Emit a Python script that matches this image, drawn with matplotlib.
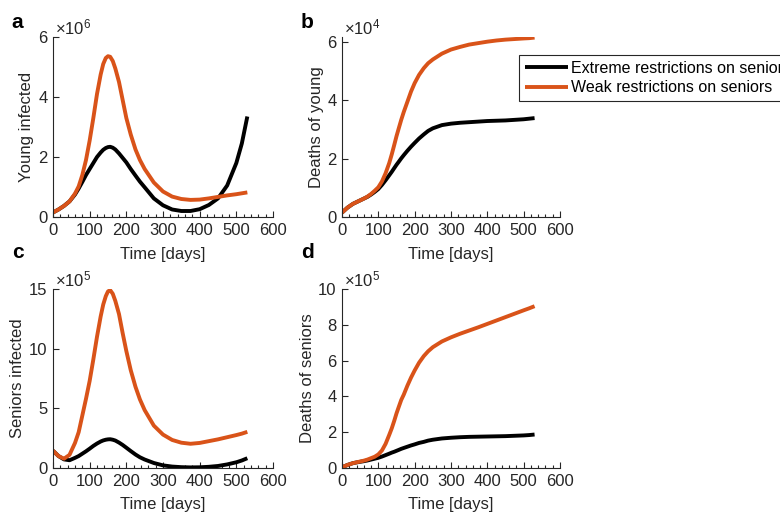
import matplotlib
matplotlib.use('Agg')
import matplotlib.pyplot as plt
from matplotlib.ticker import MultipleLocator

plt.rcParams['font.family'] = ['Liberation Sans', 'DejaVu Sans']
plt.rcParams['mathtext.default'] = 'regular'

# time axis shared by every series (days)
days = [0, 15, 30, 45, 60, 70, 80, 90, 100, 110, 120, 130, 137, 144, 150, 156, 163, 170, 180,
        190, 200, 212, 225, 237, 250, 275, 300, 325, 350, 375, 400, 425, 450, 475, 500, 515, 530]

# a: young infected (x1e6)
young_inf_extreme = [0.15, 0.25, 0.37, 0.52, 0.75, 0.95, 1.17, 1.4, 1.6, 1.8, 2.0, 2.15, 2.24,
                     2.3, 2.33, 2.34, 2.31, 2.25, 2.12, 1.97, 1.82, 1.6, 1.38, 1.18, 0.99, 0.62,
                     0.39, 0.25, 0.2, 0.2, 0.26, 0.4, 0.62, 1.05, 1.8, 2.45, 3.35]
young_inf_weak = [0.15, 0.25, 0.37, 0.52, 0.78, 1.02, 1.4, 1.9, 2.55, 3.3, 4.1, 4.75, 5.1, 5.3,
                  5.36, 5.34, 5.2, 4.95, 4.5, 3.9, 3.3, 2.75, 2.25, 1.9, 1.6, 1.15, 0.85, 0.68,
                  0.6, 0.57, 0.58, 0.62, 0.67, 0.72, 0.76, 0.79, 0.82]

# b: deaths of young (x1e4)
young_dead_extreme = [0.15, 0.32, 0.45, 0.54, 0.63, 0.69, 0.77, 0.86, 0.96, 1.1, 1.26, 1.43, 1.55,
                      1.68, 1.79, 1.89, 2.01, 2.12, 2.27, 2.41, 2.54, 2.69, 2.83, 2.95, 3.04, 3.15,
                      3.2, 3.23, 3.25, 3.27, 3.29, 3.3, 3.31, 3.33, 3.35, 3.37, 3.39]
young_dead_weak = [0.15, 0.32, 0.45, 0.54, 0.63, 0.7, 0.79, 0.9, 1.02, 1.22, 1.5, 1.85, 2.15,
                   2.48, 2.77, 3.03, 3.33, 3.6, 3.95, 4.3, 4.59, 4.87, 5.1, 5.27, 5.4, 5.6, 5.74,
                   5.83, 5.91, 5.96, 6.01, 6.05, 6.08, 6.1, 6.12, 6.13, 6.15]

# c: seniors infected (x1e5)
senior_inf_extreme = [1.45, 1.0, 0.72, 0.65, 0.85, 1.0, 1.2, 1.4, 1.62, 1.85, 2.05, 2.22, 2.31,
                      2.37, 2.4, 2.41, 2.37, 2.3, 2.13, 1.93, 1.7, 1.42, 1.13, 0.9, 0.71, 0.42,
                      0.22, 0.12, 0.07, 0.05, 0.06, 0.1, 0.17, 0.3, 0.48, 0.63, 0.82]
senior_inf_weak = [1.45, 1.0, 0.78, 1.1, 2.1, 3.0, 4.4, 5.8, 7.3, 9.1, 11.0, 12.7, 13.7, 14.4,
                   14.8, 14.9, 14.6, 14.0, 12.9, 11.3, 9.8, 8.2, 6.8, 5.75, 4.85, 3.55, 2.8, 2.35,
                   2.12, 2.03, 2.1, 2.25, 2.4, 2.58, 2.76, 2.88, 3.03]

# d: deaths of seniors (x1e5)
senior_dead_extreme = [0.04, 0.17, 0.27, 0.33, 0.38, 0.42, 0.47, 0.52, 0.57, 0.64, 0.72, 0.8, 0.86,
                       0.91, 0.96, 1.01, 1.07, 1.12, 1.19, 1.26, 1.32, 1.4, 1.46, 1.53, 1.58, 1.65,
                       1.69, 1.72, 1.74, 1.75, 1.76, 1.77, 1.78, 1.8, 1.82, 1.84, 1.87]
senior_dead_weak = [0.04, 0.17, 0.27, 0.34, 0.41, 0.47, 0.55, 0.63, 0.76, 0.98, 1.35, 1.85, 2.22,
                    2.65, 3.05, 3.4, 3.8, 4.1, 4.6, 5.05, 5.45, 5.88, 6.25, 6.52, 6.75, 7.07, 7.3,
                    7.5, 7.68, 7.86, 8.05, 8.24, 8.43, 8.62, 8.81, 8.92, 9.04]

legend_labels = ['Extreme restrictions on seniors', 'Weak restrictions on seniors']
ORANGE = '#D95319'
GREY = '#262626'

W, H = 780, 515
fig = plt.figure(figsize=(W / 100, H / 100), dpi=100)


def px_axes(x0, y0, x1, y1):
    return fig.add_axes([x0 / W, 1 - y1 / H, (x1 - x0) / W, (y1 - y0) / H])


panels = [
    # letter, rect, extreme, weak, ylabel, ylim, ystep, exponent, letter pos, ylabel x
    ('a', (53, 37, 273, 217), young_inf_extreme, young_inf_weak, 'Young infected', 6, 2, 6, (17, 23), 27),
    ('b', (342, 37, 560, 217), young_dead_extreme, young_dead_weak, 'Deaths of young', 6.17, 2, 4, (307, 23), 316),
    ('c', (53, 289, 273, 468), senior_inf_extreme, senior_inf_weak, 'Seniors infected', 15, 5, 5, (18, 252), 18),
    ('d', (342, 289, 560, 468), senior_dead_extreme, senior_dead_weak, 'Deaths of seniors', 10, 2, 5, (307, 252), 307),
]

lines = []
for letter, rect, ext, weak, ylab, ytop, ystep, expo, lpos, ylx in panels:
    ax = px_axes(*rect)
    l1, = ax.plot(days, ext, color='black', lw=2.8, solid_capstyle='butt', solid_joinstyle='round')
    l2, = ax.plot(days, weak, color=ORANGE, lw=2.8, solid_capstyle='butt', solid_joinstyle='round')
    lines = [l1, l2]
    ax.set_xlim(0, 600)
    ax.set_ylim(0, ytop)
    ax.xaxis.set_major_locator(MultipleLocator(100))
    ax.xaxis.set_minor_locator(MultipleLocator(20))
    ax.yaxis.set_major_locator(MultipleLocator(ystep))
    for side in ['top', 'right']:
        ax.spines[side].set_visible(False)
    for side in ['left', 'bottom']:
        ax.spines[side].set_color(GREY)
        ax.spines[side].set_linewidth(0.8)
    ax.tick_params(which='both', direction='in', colors=GREY, labelsize=12, width=0.8)
    ax.tick_params(which='major', length=4.5, pad=4)
    ax.tick_params(which='minor', length=2.5)
    ax.text(0.01, 1.0, '×10$^{%d}$' % expo, transform=ax.transAxes, ha='left', va='bottom',
            fontsize=12, color=GREY)

    x0, y0, x1, y1 = rect
    fig.text(((x0 + x1) / 2) / W, 1 - (y1 + 37) / H, 'Time [days]', ha='center', va='center',
             fontsize=12, color=GREY)
    fig.text(ylx / W, 1 - ((y0 + y1) / 2) / H, ylab, rotation=90, ha='center', va='center',
             fontsize=12, color=GREY)
    fig.text(lpos[0] / W, 1 - lpos[1] / H, letter, ha='center', va='center', fontsize=15,
             fontweight='bold', color='black')

leg = fig.legend(lines, legend_labels, loc='upper left', bbox_to_anchor=(519 / W, 1 - 55 / H),
                 fontsize=11.5, frameon=True, fancybox=False, edgecolor=GREY, framealpha=1,
                 handlelength=2.7, handletextpad=0.2, borderpad=0.35, labelspacing=0.3,
                 borderaxespad=0)
leg.get_frame().set_linewidth(0.8)

fig.savefig('out.png', dpi=100)
